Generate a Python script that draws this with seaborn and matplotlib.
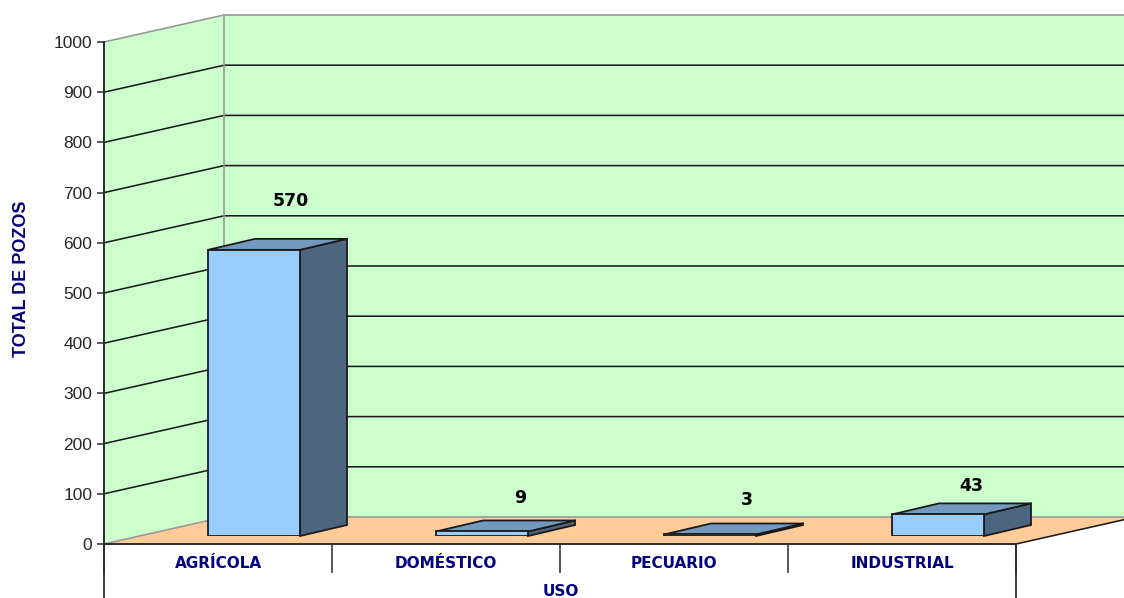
import matplotlib
matplotlib.use("Agg")
import matplotlib.pyplot as plt
import seaborn as sns
from matplotlib.patches import Polygon

# Well counts by use
categories = ["AGRÍCOLA", "DOMÉSTICO", "PECUARIO", "INDUSTRIAL"]
values = [570, 9, 3, 43]
y_ticks = list(range(0, 1100, 100))
x_title = "USO"
y_title = "TOTAL DE POZOS"

# Layout in pixels of the 1124x598 canvas
W, H = 1124, 598
PLANE_L, PLANE_R, PLANE_B, PLANE_T = 104, 1016, 544, 42
PX_X = (PLANE_R - PLANE_L) / len(categories)   # pixels per category
PX_Y = (PLANE_B - PLANE_T) / 1000              # pixels per value unit


def axes_rect(shift_x, shift_y):
    return [(PLANE_L + shift_x) / W, (H - PLANE_B + shift_y) / H,
            (PLANE_R - PLANE_L) / W, (PLANE_B - PLANE_T) / H]


sns.set_theme(style="white", rc={"font.family": ["Liberation Sans", "DejaVu Sans"]})
fig = plt.figure(figsize=(W / 100, H / 100), dpi=100, facecolor="white")

WALL, FLOOR = "#CCFFCC", "#FFCC99"
FRONT, TOP, SIDE = "#99CCFF", "#7399BF", "#4D667F"
NAVY, INK, EDGE = "#000080", "#2B2B2B", "#999999"

# Frame of the chart: side wall, back wall and floor
ax = fig.add_axes(axes_rect(0, 0))
ax.set_xlim(-0.5, len(categories) - 0.5)
ax.set_ylim(0, 1000)
ax.patch.set_visible(False)

DX, DY = 120 / PX_X, 27 / PX_Y
x0, x1 = -0.5, len(categories) - 0.5
ax.add_patch(Polygon([(x0, 0), (x0, 1000), (x0 + DX, 1000 + DY), (x0 + DX, DY)],
                     fc=WALL, ec="none", clip_on=False, zorder=1))
ax.add_patch(Polygon([(x0 + DX, DY), (x0 + DX, 1000 + DY), (x1 + DX, 1000 + DY), (x1 + DX, DY)],
                     fc=WALL, ec="none", clip_on=False, zorder=1))
ax.add_patch(Polygon([(x0, 0), (x0 + DX, DY), (x1 + DX, DY), (x1, 0)],
                     fc=FLOOR, ec="none", clip_on=False, zorder=1))

for t in y_ticks:
    color, lw = (EDGE, 1.2) if t in (0, 1000) else ("#1A1A1A", 1.15)
    ax.plot([x0, x0 + DX, x1 + DX], [t, t + DY, t + DY], color=color, lw=lw,
            clip_on=False, zorder=2, solid_joinstyle="miter")
ax.plot([x0 + DX, x0 + DX], [DY, 1000 + DY], color=EDGE, lw=1.2, clip_on=False, zorder=2)
ax.plot([x1, x1 + DX], [0, DY], color="#1A1A1A", lw=1.15, clip_on=False, zorder=2)

# Axes, ticks and the table-like rules under the floor
for name, spine in ax.spines.items():
    spine.set_visible(name in ("left", "bottom"))
    spine.set_color(INK)
    spine.set_linewidth(1.4)
    spine.set_zorder(3)

ax.set_yticks(y_ticks)
ax.tick_params(axis="y", left=True, length=5, width=1.1, color=INK, pad=3.5,
               labelsize=12.5, labelcolor="#262626")
boundaries = [i - 0.5 for i in range(len(categories) + 1)]
ax.set_xticks(boundaries, labels=[""] * len(boundaries))
ax.tick_params(axis="x", bottom=True, length=21, width=1.1, color=INK)
ax.set_xticks(range(len(categories)), labels=categories, minor=True)
ax.tick_params(axis="x", which="minor", bottom=False, length=0, pad=9, labelsize=11,
               labelcolor=NAVY)
for lab in ax.get_xticklabels(minor=True):
    lab.set_fontweight("bold")
    lab.set_family("DejaVu Sans")

rule = ax.get_xaxis_transform()
for x in (x0, x1):
    ax.plot([x, x], [0, -(H - PLANE_B) / (PLANE_B - PLANE_T)], color=INK, lw=1.3,
            transform=rule, clip_on=False, zorder=3)

fig.text(22 / W, 1 - 279 / H, y_title, rotation=90, ha="center", va="center",
         color=NAVY, fontsize=13, fontweight="bold")
fig.text(561 / W, 1 - 592 / H, x_title, ha="center", va="center", color=NAVY,
         fontsize=11, fontweight="bold", family="DejaVu Sans")

# Bars sit slightly inside the floor, so they get their own shifted axes
bx = fig.add_axes(axes_rect(36, 8), sharey=None)
bx.patch.set_visible(False)
sns.barplot(x=categories, y=values, order=categories, width=92 / PX_X, color=FRONT,
            saturation=1, edgecolor="#1A1A1A", linewidth=1.3, ax=bx, zorder=6)
bx.set_xlim(-0.5, len(categories) - 0.5)
bx.set_ylim(0, 1000)
bx.axis("off")

BAR_DX, BAR_DY = 47 / PX_X, 11 / PX_Y
label_offsets = [(37, 49), (38, 33), (37, 34), (33, 28)]
for bar, v, (ox, oy) in zip(bx.patches, values, label_offsets):
    left, right = bar.get_x(), bar.get_x() + bar.get_width()
    bx.add_patch(Polygon([(right, 0), (right + BAR_DX, BAR_DY), (right + BAR_DX, v + BAR_DY), (right, v)],
                         fc=SIDE, ec="#1A1A1A", lw=1.3, clip_on=False, zorder=5))
    bx.add_patch(Polygon([(left, v), (left + BAR_DX, v + BAR_DY), (right + BAR_DX, v + BAR_DY), (right, v)],
                         fc=TOP, ec="#1A1A1A", lw=1.3, clip_on=False, zorder=5))
    bx.annotate(str(v), (left + (right - left) / 2, v), xytext=(ox * 0.72, oy * 0.72),
                textcoords="offset points", ha="center", va="center", color="black",
                fontsize=12.5, fontweight="bold", family="DejaVu Sans", annotation_clip=False, zorder=7)

fig.savefig("out.png", dpi=100)
